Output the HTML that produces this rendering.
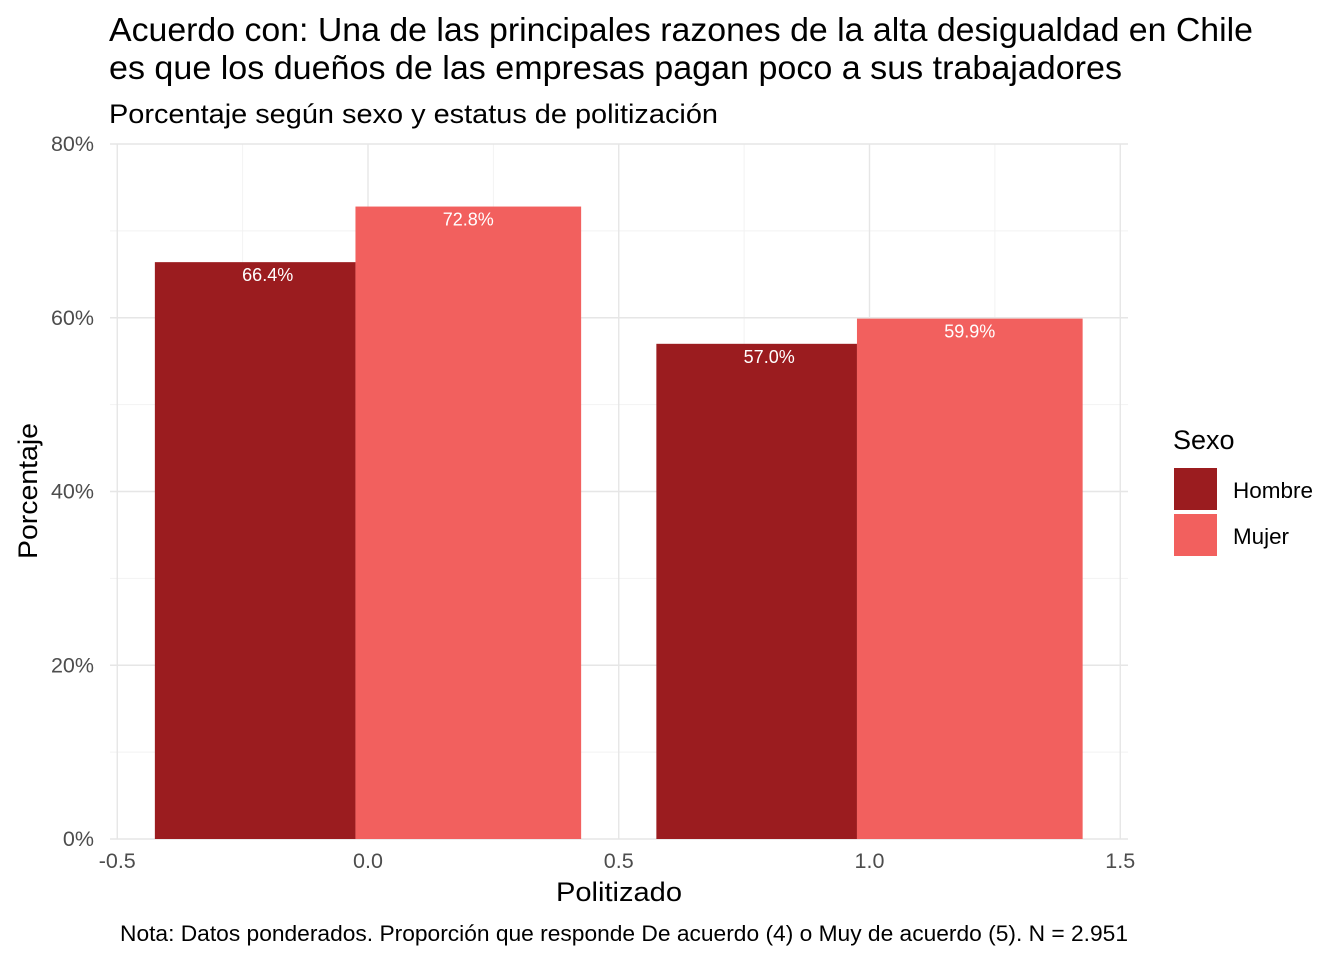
<!DOCTYPE html>
<html><head><meta charset="utf-8">
<style>
body{margin:0;background:#fff;font-family:"Liberation Sans",Arial,sans-serif;}
svg{display:block}
</style></head>
<body>
<svg id="chart" width="1344" height="960" xmlns="http://www.w3.org/2000/svg">
<text x="109" y="41" font-size="33" textLength="1144" lengthAdjust="spacingAndGlyphs" fill="#000">Acuerdo con: Una de las principales razones de la alta desigualdad en Chile</text>
<text x="109" y="79" font-size="33" textLength="1013" lengthAdjust="spacingAndGlyphs" fill="#000">es que los dueños de las empresas pagan poco a sus trabajadores</text>
<text x="109" y="123" font-size="27" textLength="609" lengthAdjust="spacingAndGlyphs" fill="#000">Porcentaje según sexo y estatus de politización</text>
<g id="grid"></g>
<g id="bars"></g>
<g id="axes"></g>
<text x="619" y="901" font-size="27" textLength="126" lengthAdjust="spacingAndGlyphs" text-anchor="middle">Politizado</text>
<text transform="translate(37,491) rotate(-90)" font-size="27" textLength="136" lengthAdjust="spacingAndGlyphs" text-anchor="middle">Porcentaje</text>
<text x="624" y="941" font-size="22" textLength="1008" lengthAdjust="spacingAndGlyphs" text-anchor="middle">Nota: Datos ponderados. Proporción que responde De acuerdo (4) o Muy de acuerdo (5). N = 2.951</text>
<g>
<text x="1173" y="449" font-size="27">Sexo</text>
<rect x="1174" y="468" width="43" height="42" fill="#9b1c1f"/>
<text x="1233" y="498" font-size="22" textLength="80" lengthAdjust="spacingAndGlyphs">Hombre</text>
<rect x="1174" y="514" width="43" height="42" fill="#f2605e"/>
<text x="1233" y="544" font-size="22" textLength="56" lengthAdjust="spacingAndGlyphs">Mujer</text>
</g>
</svg>
<script>
const groups = [0, 1];
const hombre = [66.4, 57.0];
const mujer = [72.8, 59.9];
const yTicks = [0, 20, 40, 60, 80];
const yMinor = [10, 30, 50, 70];
const xTicks = [-0.5, 0, 0.5, 1, 1.5];
const xMinor = [-0.25, 0.25, 0.75, 1.25];

const NS = "http://www.w3.org/2000/svg";
const xs = v => 368 + v * 501.5;
const ys = v => 839 - v * 8.6875;
function mk(tag, attrs, parent, txt){
  const e = document.createElementNS(NS, tag);
  for (const k in attrs) e.setAttribute(k, attrs[k]);
  if (txt !== undefined) e.textContent = txt;
  parent.appendChild(e); return e;
}
const grid = document.getElementById('grid'), bars = document.getElementById('bars'), axes = document.getElementById('axes');
yMinor.forEach(v => { const l = mk('line',{x1:110,x2:1128,y1:ys(v),y2:ys(v),stroke:'#f2f2f2','stroke-width':1},grid);
  
   });
xMinor.forEach(v => { const l = mk('line',{x1:xs(v),x2:xs(v),y1:144,y2:839,stroke:'#f2f2f2','stroke-width':1},grid);
  
   });
yTicks.forEach(v => { const l = mk('line',{x1:110,x2:1128,y1:ys(v),y2:ys(v),stroke:'#e6e6e6','stroke-width':1.4},grid);
  
  
  const t = mk('text',{x:94,y:ys(v)+7,'font-size':21.5,'text-anchor':'end',fill:'#4d4d4d'},axes,v+'%');
  
   });
xTicks.forEach(v => { const l = mk('line',{x1:xs(v),x2:xs(v),y1:144,y2:839,stroke:'#e6e6e6','stroke-width':1.4},grid);
  
  
  const t = mk('text',{x:xs(v),y:868,'font-size':21.5,'text-anchor':'middle',fill:'#4d4d4d'},axes,v.toFixed(1));
  
   });
function drawBar(val, x0, x1, lx, color, name){
  const r = mk('rect',{x:xs(x0),y:ys(val),width:xs(x1)-xs(x0),height:ys(0)-ys(val),fill:color},bars);
  
  
  const t = mk('text',{x:xs(lx),y:ys(val)+19,'font-size':18,'text-anchor':'middle',fill:'#fff'},bars,val.toFixed(1)+'%');
  
  
}
groups.forEach((g,i) => {
  drawBar(hombre[i], g-0.425, g-0.025, g-0.2, '#9b1c1f', 'bar-hombre');
  drawBar(mujer[i], g-0.025, g+0.425, g+0.2, '#f2605e', 'bar-mujer');
});
</script>
</body></html>
